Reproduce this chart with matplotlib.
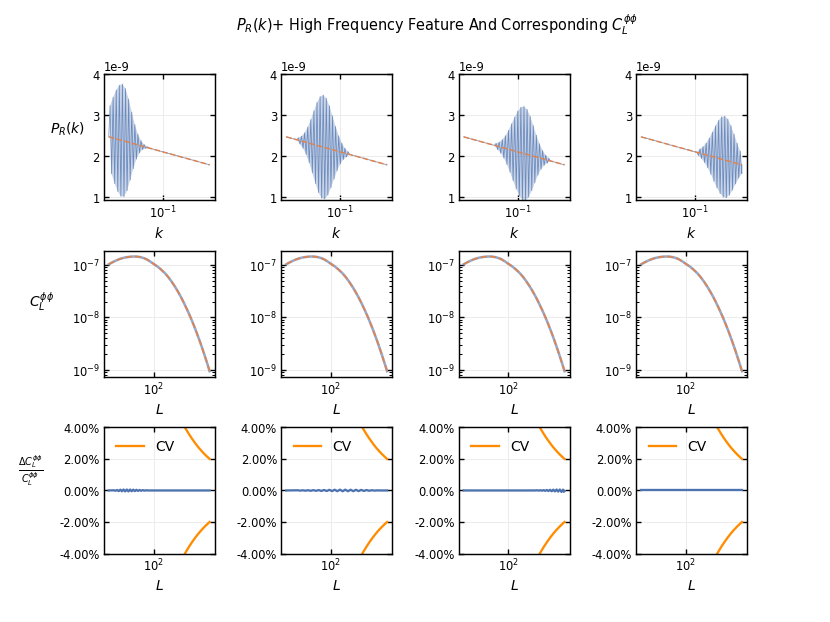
import numpy as np
import matplotlib
matplotlib.use('Agg')
import matplotlib.pyplot as plt
from matplotlib.ticker import PercentFormatter, NullLocator

plt.rcParams.update({
    "font.family": "DejaVu Sans",
    "font.size": 10,
    "axes.labelsize": 12,
    "legend.fontsize": 12,
    "axes.unicode_minus": False,
    "axes.linewidth": 1.25,
})

BLUE = '#4C72B0'
ORANGE = '#DD8452'

# primordial spectrum without feature (units of 1e-9)
k_base = [0.02, 0.03, 0.05, 0.1, 0.2, 0.4]
P_base = [2.470, 2.378, 2.261, 2.103, 1.945, 1.787]

# extrema of the oscillating feature, one list per panel (units of 1e-9)
feat1_k = [0.02075, 0.02173, 0.02276, 0.02383, 0.02495, 0.02613, 0.02736, 0.02865,
           0.03000, 0.03141, 0.03290, 0.03445, 0.03607, 0.03777, 0.03955, 0.04141,
           0.04336, 0.04541, 0.04755, 0.04979, 0.05213, 0.05459, 0.05717, 0.05986,
           0.06268, 0.06563]
feat1_P = [3.232, 1.568, 3.434, 1.332, 3.612, 1.138, 3.729, 1.020,
           3.758, 1.010, 3.647, 1.158, 3.393, 1.416, 3.073, 1.694,
           2.769, 1.926, 2.534, 2.078, 2.377, 2.159, 2.283, 2.188,
           2.229, 2.199]

feat2_k = [0.02743, 0.02872, 0.03007, 0.03149, 0.03297, 0.03452, 0.03616, 0.03786,
           0.03964, 0.04151, 0.04346, 0.04552, 0.04766, 0.04991, 0.05226, 0.05472,
           0.05730, 0.06000, 0.06283, 0.06579, 0.06889, 0.07214, 0.07553, 0.07910,
           0.08282, 0.08672, 0.09082, 0.09509, 0.09958, 0.1043, 0.1092, 0.1143,
           0.1197, 0.1254, 0.1313]
feat2_P = [2.398, 2.446, 2.293, 2.486, 2.191, 2.569, 2.039, 2.706,
           1.835, 2.891, 1.589, 3.106, 1.332, 3.310, 1.112, 3.451,
           0.975, 3.490, 0.954, 3.409, 1.049, 3.226, 1.227, 2.980,
           1.442, 2.723, 1.646, 2.496, 1.808, 2.318, 1.918, 2.192,
           1.978, 2.110, 2.041]

feat3_k = [0.05003, 0.05238, 0.05485, 0.05743, 0.06014, 0.06298, 0.06594, 0.06905,
           0.07231, 0.07572, 0.07928, 0.08302, 0.08693, 0.09103, 0.09532, 0.09982,
           0.1045, 0.1094, 0.1146, 0.1200, 0.1257, 0.1316, 0.1378, 0.1443,
           0.1511, 0.1582, 0.1656, 0.1734, 0.1816, 0.1902, 0.1992, 0.2085,
           0.2184, 0.2287, 0.2394, 0.2507, 0.2625]
feat3_P = [2.261, 2.311, 2.157, 2.342, 2.071, 2.402, 1.952, 2.497,
           1.795, 2.629, 1.606, 2.788, 1.399, 2.953, 1.199, 3.098,
           1.034, 3.192, 0.932, 3.212, 0.915, 3.137, 0.998, 2.969,
           1.158, 2.744, 1.351, 2.509, 1.533, 2.302, 1.678, 2.138,
           1.775, 2.023, 1.828, 1.947, 1.883]

feat4_k = [0.1048, 0.1097, 0.1149, 0.1203, 0.1260, 0.1319, 0.1381, 0.1446,
           0.1514, 0.1586, 0.1660, 0.1739, 0.1821, 0.1906, 0.1996, 0.2090,
           0.2189, 0.2292, 0.2400, 0.2513, 0.2632, 0.2756, 0.2886, 0.3021,
           0.3164, 0.3313, 0.3469, 0.3633, 0.3804, 0.3983]
feat4_P = [2.093, 2.016, 2.176, 1.942, 2.231, 1.843, 2.318, 1.714,
           2.439, 1.558, 2.585, 1.388, 2.737, 1.224, 2.870, 1.088,
           2.956, 1.002, 2.974, 0.984, 2.903, 1.047, 2.745, 1.170,
           2.534, 1.320, 2.314, 1.462, 2.120, 1.574]

# lensing potential spectrum
L_cl = [20, 22, 24.8, 27.5, 30.5, 35, 39.2, 44, 48.9, 55, 62.8, 70, 77.8, 88, 100,
        115, 130, 150, 170, 190, 215, 240, 270, 300, 335, 375, 420, 470, 525, 585,
        650, 700, 750]
Cl = [1.03e-7, 1.10e-7, 1.185e-7, 1.255e-7, 1.315e-7, 1.38e-7, 1.415e-7, 1.44e-7,
      1.45e-7, 1.445e-7, 1.41e-7, 1.355e-7, 1.285e-7, 1.17e-7, 1.05e-7, 9.35e-8,
      8.25e-8, 7.00e-8, 5.85e-8, 4.87e-8, 3.88e-8, 3.10e-8, 2.39e-8, 1.85e-8,
      1.39e-8, 1.02e-8, 7.28e-9, 5.11e-9, 3.53e-9, 2.41e-9, 1.63e-9, 1.23e-9, 9.33e-10]

# cosmic variance
L_cv = [280, 320, 360, 400, 450, 500, 560, 630, 700, 750]
cv = [0.0431, 0.0389, 0.0355, 0.0327, 0.0298, 0.0274, 0.0251, 0.0229, 0.0211, 0.0200]

# relative difference of C_L (with / without feature)
res1_L = [20, 24, 25.5, 27, 28.6, 30.3, 32.1, 34, 36, 38.2, 40.5, 42.9, 45.4, 48.1, 51,
          54, 57.2, 60.6, 64.2, 68, 72.1, 76.4, 81, 90, 750]
res1 = [0, 1e-4, -2e-4, 3e-4, -4e-4, 5e-4, -5e-4, 6e-4, -6e-4, 6e-4, -6e-4, 6e-4, -5e-4,
        5e-4, -4e-4, 4e-4, -3e-4, 3e-4, -2e-4, 2e-4, -1e-4, 1e-4, 0, 0, 0]

res2_L = [20, 30, 33, 36.3, 39.9, 43.9, 48.3, 53.1, 58.5, 64.3, 70.7, 77.8, 85.6, 94.2,
          103.6, 114, 125, 138, 152, 167, 184, 202, 222, 245, 269, 296, 326, 358, 394,
          433, 477, 524, 560, 750]
res2 = [0, 1e-4, -1e-4, 1e-4, -1.5e-4, 1.5e-4, -2e-4, 2e-4, -2.5e-4, 2.5e-4, -3e-4, 3e-4,
        -3.5e-4, 4e-4, -4e-4, 4.5e-4, -4.5e-4, 5e-4, -5e-4, 5e-4, -5e-4, 4.5e-4, -4.5e-4,
        4e-4, -4e-4, 3.5e-4, -3e-4, 2.5e-4, -2e-4, 1.5e-4, -1e-4, 0.5e-4, 0, 0]

res3_L = [20, 260, 280, 297, 315, 334, 354, 375, 397, 421, 446, 473, 501, 531, 563, 597,
          633, 671, 711, 730, 750]
res3 = [0, 0, 1e-4, -1e-4, 1.5e-4, -1.5e-4, 2e-4, -2.5e-4, 3e-4, -3.5e-4, 4e-4, -5e-4,
        5e-4, -6e-4, 6e-4, -7e-4, 6e-4, -9e-4, 5e-4, -8e-4, -4e-4]

res4_L = [20, 750]
res4 = [0, 0]

features = [(feat1_k, feat1_P), (feat2_k, feat2_P), (feat3_k, feat3_P), (feat4_k, feat4_P)]
residuals = [(res1_L, res1), (res2_L, res2), (res3_L, res3), (res4_L, res4)]


def with_feature(fk, fP):
    kb = np.array(k_base)
    pb = np.array(P_base)
    keep = (kb < fk[0]) | (kb > fk[-1])
    k = np.concatenate([kb[keep], fk])
    p = np.concatenate([pb[keep], fP])
    order = np.argsort(k)
    return k[order], p[order]


def envelope(fk, fP):
    # polygon through the maxima and back through the minima
    fk = np.array(fk)
    fP = np.array(fP)
    base = np.interp(np.log(fk), np.log(k_base), P_base)
    up = fP >= base - 1e-3
    lo = fP <= base + 1e-3
    xs = np.concatenate([fk[up], fk[lo][::-1]])
    ys = np.concatenate([fP[up], fP[lo][::-1]])
    return xs, ys


def style(ax):
    ax.tick_params(which='both', direction='in', top=True, right=True)
    ax.tick_params(which='major', length=4, width=1.2)
    ax.tick_params(which='minor', length=2.5, width=0.9)
    ax.xaxis.set_minor_locator(NullLocator())
    ax.grid(True, which='major', color='0.92', linewidth=0.8)
    ax.set_axisbelow(True)


fig, axes = plt.subplots(3, 4, figsize=(10, 7.5), dpi=83)
fig.subplots_adjust(left=0.125, right=0.9, top=0.88, bottom=0.11, wspace=0.6, hspace=0.4)

for j in range(4):
    # row 1: P_R(k)
    ax = axes[0, j]
    ex, ey = envelope(*features[j])
    ax.fill(ex, ey * 1e-9, color=BLUE, alpha=0.3, lw=0)
    k, p = with_feature(*features[j])
    ax.plot(k, p * 1e-9, color=BLUE, lw=0.7, alpha=0.75)
    ax.plot(k_base, np.array(P_base) * 1e-9, color=ORANGE, lw=1.3, ls='--')
    ax.set_xscale('log')
    ax.set_ylim(0.92e-9, 4.0e-9)
    ax.set_xlabel(r'$k$')
    style(ax)

    # row 2: C_L^phiphi
    ax = axes[1, j]
    ax.plot(L_cl, Cl, color=BLUE, lw=2.2, alpha=0.6)
    ax.plot(L_cl, Cl, color=ORANGE, lw=1.5, ls='--')
    ax.set_xscale('log')
    ax.set_yscale('log')
    ax.set_xlabel(r'$L$')
    style(ax)

    # row 3: relative difference
    ax = axes[2, j]
    rL, r = residuals[j]
    ax.plot(rL, r, color=BLUE, lw=2)
    ax.plot(L_cv, cv, color='darkorange', lw=2, label='CV')
    ax.plot(L_cv, -np.array(cv), color='darkorange', lw=2)
    ax.set_xscale('log')
    ax.set_ylim(-0.04, 0.04)
    ax.set_yticks([-0.04, -0.02, 0, 0.02, 0.04])
    ax.yaxis.set_major_formatter(PercentFormatter(xmax=1, decimals=2))
    ax.set_xlabel(r'$L$')
    ax.legend(loc='upper left', frameon=False)
    style(ax)

axes[0, 0].set_ylabel(r'$P_R(k)$', rotation=0, ha='center', va='bottom')
axes[0, 0].yaxis.set_label_coords(-0.33, 0.5)
axes[1, 0].set_ylabel(r'$C_L^{\phi\phi}$', rotation=0, ha='center', va='bottom')
axes[1, 0].yaxis.set_label_coords(-0.56, 0.5)
axes[2, 0].set_ylabel(r'$\frac{\Delta C_L^{\phi\phi}}{C_L^{\phi\phi}}$', rotation=0,
                      ha='center', va='bottom')
axes[2, 0].yaxis.set_label_coords(-0.66, 0.52)

fig.suptitle(r'$P_R(k)$+ High Frequency Feature And Corresponding $C_L^{\phi\phi}$',
             x=0.527, fontsize=12.6)

fig.savefig('out.png', dpi=83, facecolor='white')
